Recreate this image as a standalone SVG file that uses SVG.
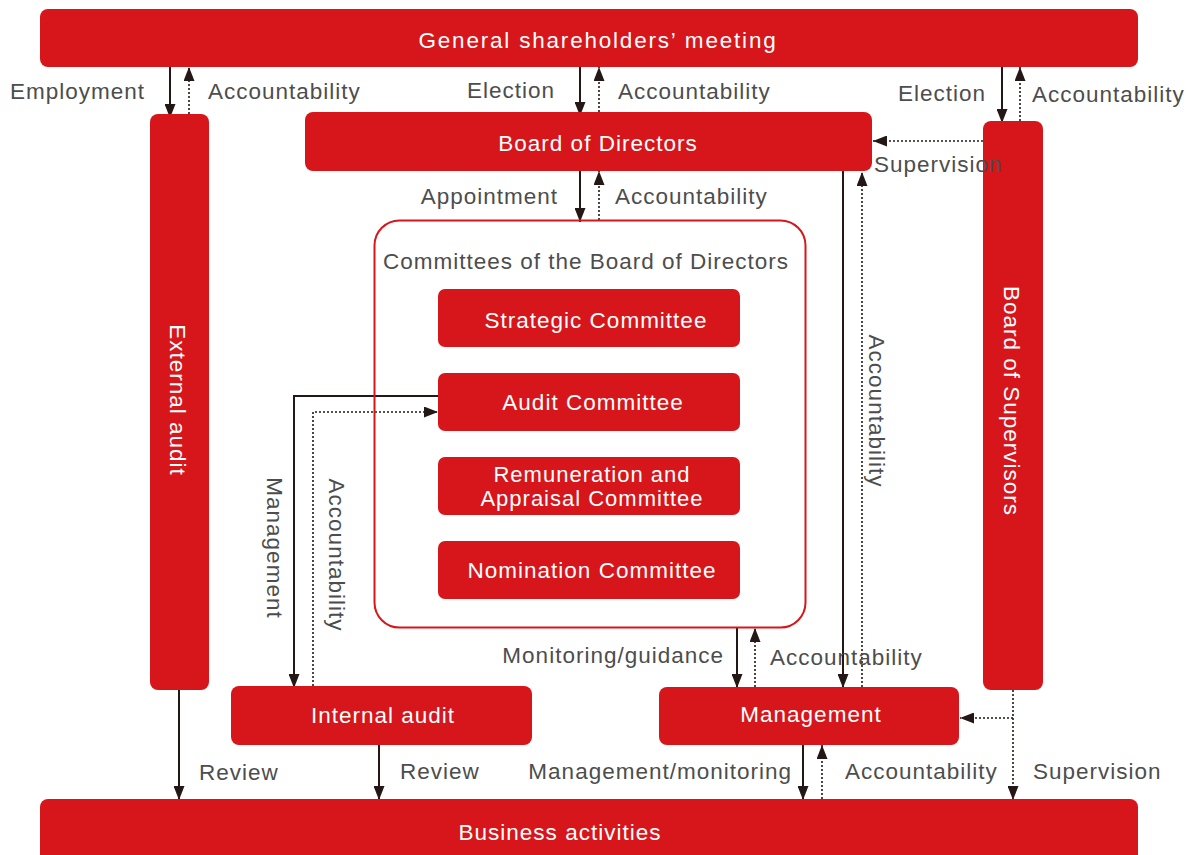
<svg xmlns="http://www.w3.org/2000/svg" width="1194" height="855" viewBox="0 0 1194 855">
<style>
.box{fill:#d7161b}
.nt{font-family:"Liberation Sans",Arial,sans-serif;font-size:22.5px;fill:#ffffff;text-anchor:middle;letter-spacing:1px}
.lb{font-family:"Liberation Sans",Arial,sans-serif;font-size:22.5px;fill:#4d4d4d;letter-spacing:1px}
.s{stroke:#231815;stroke-width:2;fill:none}
.d{stroke:#231815;stroke-width:1.6;fill:none;stroke-dasharray:2 2}
</style>
<defs>
<marker id="ah" markerUnits="userSpaceOnUse" markerWidth="14" markerHeight="11" refX="14" refY="5.5" orient="auto">
<path d="M0,0 L14,5.5 L0,11 z" fill="#231815"/>
</marker>
</defs>
<rect width="1194" height="855" fill="#ffffff"/>

<g id="connectors">
<line class="s" x1="170" y1="67" x2="170" y2="118" marker-end="url(#ah)"/>
<line class="d" x1="189" y1="118" x2="189" y2="67" marker-end="url(#ah)"/>
<line class="s" x1="580" y1="67" x2="580" y2="116" marker-end="url(#ah)"/>
<line class="d" x1="599" y1="112" x2="599" y2="67" marker-end="url(#ah)"/>
<line class="s" x1="1002" y1="67" x2="1002" y2="123" marker-end="url(#ah)"/>
<line class="d" x1="1020" y1="121" x2="1020" y2="67" marker-end="url(#ah)"/>
<line class="d" x1="983" y1="141" x2="873" y2="141" marker-end="url(#ah)"/>
<line class="s" x1="580" y1="171" x2="580" y2="222" marker-end="url(#ah)"/>
<line class="d" x1="599" y1="220" x2="599" y2="171" marker-end="url(#ah)"/>
<line class="s" x1="843" y1="171" x2="843" y2="688" marker-end="url(#ah)"/>
<line class="d" x1="862" y1="687" x2="862" y2="172" marker-end="url(#ah)"/>
<polyline class="s" points="438,396 294,396 294,688" marker-end="url(#ah)"/>
<polyline class="d" points="313,686 313,412 438,412" marker-end="url(#ah)"/>
<line class="s" x1="737" y1="628" x2="737" y2="688" marker-end="url(#ah)"/>
<line class="d" x1="755" y1="687" x2="755" y2="628" marker-end="url(#ah)"/>
<line class="d" x1="1013" y1="690" x2="1013" y2="800" marker-end="url(#ah)"/>
<line class="d" x1="1013" y1="718" x2="960" y2="718" marker-end="url(#ah)"/>
<line class="s" x1="179" y1="690" x2="179" y2="800" marker-end="url(#ah)"/>
<line class="s" x1="379" y1="745" x2="379" y2="800" marker-end="url(#ah)"/>
<line class="s" x1="803" y1="745" x2="803" y2="800" marker-end="url(#ah)"/>
<line class="d" x1="822" y1="799" x2="822" y2="745" marker-end="url(#ah)"/>
</g>

<g id="shareholders">
<rect class="box" x="40" y="9" width="1098" height="58" rx="8"/>
<text class="nt" x="598" y="48" style="letter-spacing:1.8px">General shareholders’ meeting</text>
</g>
<g id="external-audit">
<rect class="box" x="150" y="114" width="59" height="576" rx="8"/>
<text class="nt" transform="translate(178,400) rotate(90)" y="8">External audit</text>
</g>
<g id="board-of-directors">
<rect class="box" x="305" y="112" width="567" height="59" rx="8"/>
<text class="nt" x="598" y="151">Board of Directors</text>
</g>
<g id="board-of-supervisors">
<rect class="box" x="983" y="121" width="60" height="569" rx="8"/>
<text class="nt" transform="translate(1012,401) rotate(90)" y="8">Board of Supervisors</text>
</g>
<g id="committees">
<rect x="374.5" y="220.5" width="431" height="407" rx="25" fill="none" stroke="#d7161b" stroke-width="2"/>
<text class="lb" x="586" y="269" text-anchor="middle">Committees of the Board of Directors</text>
</g>
<g id="strategic">
<rect class="box" x="438" y="289" width="302" height="58" rx="7"/>
<text class="nt" x="596" y="328">Strategic Committee</text>
</g>
<g id="audit">
<rect class="box" x="438" y="373" width="302" height="58" rx="7"/>
<text class="nt" x="593" y="410">Audit Committee</text>
</g>
<g id="remuneration">
<rect class="box" x="438" y="457" width="302" height="58" rx="7"/>
<text class="nt" x="592" y="482" style="font-size:22px">Remuneration and</text>
<text class="nt" x="592" y="506" style="font-size:22px">Appraisal Committee</text>
</g>
<g id="nomination">
<rect class="box" x="438" y="541" width="302" height="58" rx="7"/>
<text class="nt" x="592" y="578">Nomination Committee</text>
</g>
<g id="internal-audit">
<rect class="box" x="231" y="686" width="301" height="59" rx="8"/>
<text class="nt" x="383" y="723">Internal audit</text>
</g>
<g id="management">
<rect class="box" x="659" y="687" width="300" height="58" rx="8"/>
<text class="nt" x="811" y="722">Management</text>
</g>
<g id="business">
<rect class="box" x="40" y="799" width="1098" height="70" rx="8"/>
<text class="nt" x="560" y="840">Business activities</text>
</g>

<g id="labels">
<text class="lb" x="10" y="99">Employment</text>
<text class="lb" x="208" y="99">Accountability</text>
<text class="lb" x="555" y="98" text-anchor="end">Election</text>
<text class="lb" x="618" y="99">Accountability</text>
<text class="lb" x="986" y="101" text-anchor="end">Election</text>
<text class="lb" x="1032" y="102">Accountability</text>
<text class="lb" x="874" y="172">Supervision</text>
<text class="lb" x="558" y="204" text-anchor="end">Appointment</text>
<text class="lb" x="615" y="204">Accountability</text>
<text class="lb" x="724" y="663" text-anchor="end">Monitoring/guidance</text>
<text class="lb" x="770" y="665">Accountability</text>
<text class="lb" x="199" y="780">Review</text>
<text class="lb" x="400" y="779">Review</text>
<text class="lb" x="792" y="779" text-anchor="end">Management/monitoring</text>
<text class="lb" x="845" y="779">Accountability</text>
<text class="lb" x="1033" y="779">Supervision</text>
<text class="lb" transform="translate(877,411) rotate(90)" text-anchor="middle" y="8">Accountability</text>
<text class="lb" transform="translate(275,548) rotate(90)" text-anchor="middle" y="8">Management</text>
<text class="lb" transform="translate(337,555) rotate(90)" text-anchor="middle" y="8">Accountability</text>
</g>
</svg>
